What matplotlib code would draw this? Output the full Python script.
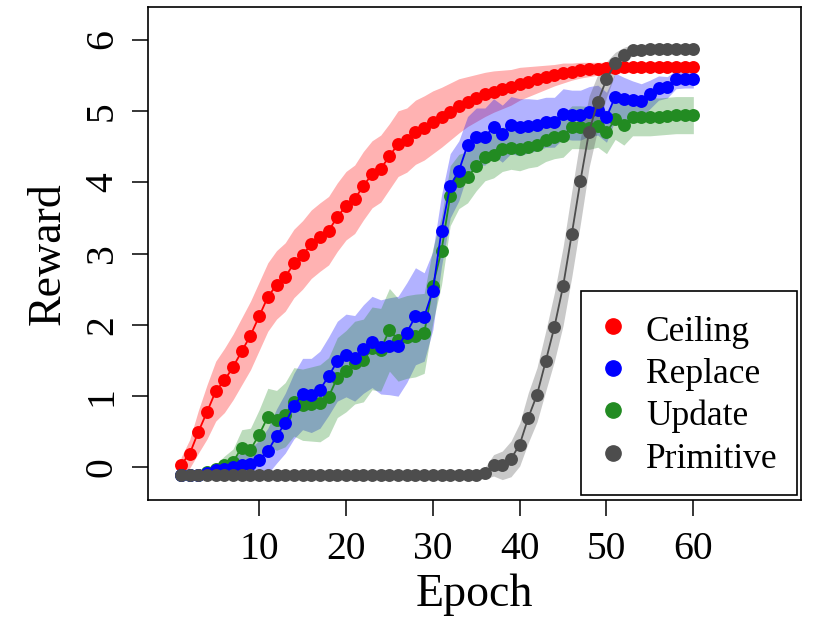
import matplotlib
matplotlib.use("Agg")
import matplotlib.pyplot as plt
from matplotlib.lines import Line2D
import numpy as np

plt.rcParams['font.family'] = ['Liberation Serif', 'DejaVu Serif']

# ---- data ----
epochs = list(range(1, 61))

ceiling = [0.04, 0.19, 0.50, 0.78, 1.07, 1.22, 1.41, 1.63, 1.85, 2.12,
           2.39, 2.56, 2.67, 2.86, 2.98, 3.13, 3.23, 3.32, 3.51, 3.67,
           3.76, 3.95, 4.11, 4.19, 4.36, 4.54, 4.59, 4.70, 4.76, 4.84,
           4.91, 4.99, 5.07, 5.13, 5.18, 5.23, 5.27, 5.30, 5.33, 5.38,
           5.41, 5.44, 5.47, 5.50, 5.53, 5.55, 5.57, 5.58, 5.59, 5.60,
           5.60, 5.61, 5.61, 5.61, 5.62, 5.62, 5.62, 5.62, 5.62, 5.62]
ceiling_sd = [0.10, 0.20, 0.30, 0.38, 0.42, 0.45, 0.46, 0.47, 0.48, 0.48,
              0.48, 0.48, 0.48, 0.48, 0.48, 0.48, 0.48, 0.48, 0.48, 0.48,
              0.48, 0.48, 0.47, 0.47, 0.46, 0.46, 0.45, 0.45, 0.45, 0.44,
              0.42, 0.40, 0.38, 0.35, 0.33, 0.31, 0.29, 0.27, 0.25, 0.23,
              0.21, 0.19, 0.17, 0.15, 0.14, 0.12, 0.11, 0.10, 0.09, 0.08,
              0.08, 0.07, 0.07, 0.07, 0.07, 0.07, 0.07, 0.07, 0.07, 0.07]

replace = [-0.10, -0.10, -0.10, -0.08, -0.03, -0.02, 0.00, 0.03, 0.05, 0.11,
           0.23, 0.44, 0.62, 0.86, 1.03, 1.01, 1.09, 1.28, 1.49, 1.57,
           1.53, 1.66, 1.76, 1.69, 1.70, 1.70, 1.89, 2.12, 2.11, 2.48,
           3.32, 3.95, 4.16, 4.52, 4.64, 4.64, 4.77, 4.68, 4.80, 4.77,
           4.79, 4.80, 4.84, 4.84, 4.96, 4.94, 4.94, 4.99, 5.01, 4.91,
           5.20, 5.17, 5.15, 5.14, 5.23, 5.32, 5.33, 5.44, 5.44, 5.44]
replace_sd = [0.03, 0.03, 0.03, 0.04, 0.06, 0.10, 0.14, 0.18, 0.22, 0.27,
              0.32, 0.38, 0.42, 0.46, 0.50, 0.52, 0.54, 0.55, 0.56, 0.58,
              0.60, 0.62, 0.64, 0.66, 0.68, 0.70, 0.70, 0.68, 0.62, 0.55,
              0.50, 0.45, 0.42, 0.40, 0.40, 0.40, 0.40, 0.40, 0.40, 0.40,
              0.38, 0.36, 0.35, 0.35, 0.35, 0.35, 0.35, 0.35, 0.35, 0.35,
              0.33, 0.30, 0.27, 0.24, 0.20, 0.17, 0.15, 0.13, 0.12, 0.12]

update = [-0.10, -0.10, -0.10, -0.07, -0.02, 0.04, 0.08, 0.28, 0.25, 0.46,
          0.71, 0.66, 0.74, 0.92, 0.88, 0.89, 0.90, 0.99, 1.26, 1.35,
          1.47, 1.50, 1.67, 1.65, 1.93, 1.79, 1.83, 1.85, 1.88, 2.55,
          3.04, 3.81, 4.01, 4.07, 4.22, 4.35, 4.38, 4.46, 4.48, 4.46,
          4.50, 4.52, 4.59, 4.63, 4.65, 4.77, 4.77, 4.76, 4.79, 4.70,
          4.88, 4.80, 4.92, 4.92, 4.92, 4.92, 4.93, 4.94, 4.94, 4.94]
update_sd = [0.03, 0.03, 0.03, 0.04, 0.06, 0.12, 0.18, 0.25, 0.30, 0.35,
             0.40, 0.42, 0.45, 0.48, 0.50, 0.52, 0.54, 0.55, 0.56, 0.57,
             0.58, 0.58, 0.58, 0.58, 0.58, 0.58, 0.58, 0.58, 0.56, 0.52,
             0.48, 0.42, 0.38, 0.36, 0.34, 0.33, 0.32, 0.31, 0.30, 0.30,
             0.30, 0.30, 0.30, 0.30, 0.30, 0.30, 0.30, 0.30, 0.30, 0.30,
             0.28, 0.28, 0.27, 0.27, 0.27, 0.26, 0.26, 0.26, 0.26, 0.26]

primitive = [-0.10] * 35 + [
    -0.08, 0.03, 0.03, 0.12, 0.32,
    0.70, 1.02, 1.49, 1.97, 2.54, 3.27, 4.02, 4.71, 5.13, 5.44,
    5.67, 5.79, 5.85, 5.86, 5.87, 5.87, 5.87, 5.87, 5.87, 5.87]
primitive_sd = [0.06] * 35 + [
    0.08, 0.15, 0.20, 0.25, 0.30,
    0.35, 0.38, 0.42, 0.48, 0.55, 0.60, 0.60, 0.50, 0.38, 0.25,
    0.15, 0.10, 0.08, 0.07, 0.07, 0.07, 0.07, 0.07, 0.07, 0.07]

series_names = ['Ceiling', 'Replace', 'Update', 'Primitive']
series_colors = ['#FF0000', '#0000FF', '#228B22', '#4D4D4D']
x_ticks = [10, 20, 30, 40, 50, 60]
y_ticks = [0, 1, 2, 3, 4, 5, 6]

means = [ceiling, replace, update, primitive]
sds = [ceiling_sd, replace_sd, update_sd, primitive_sd]

fig = plt.figure(figsize=(8.16, 6.2), dpi=100)
ax = fig.add_axes([148 / 816, 1 - 500 / 620, (801 - 148) / 816, (500 - 7) / 620])

x = np.array(epochs)
# shaded bands first
for m, s, c in zip(means, sds, series_colors):
    m = np.array(m)
    s = np.array(s)
    ax.fill_between(x, m - s, m + s, color=c, alpha=0.3, linewidth=0, zorder=1)

# lines + points (gray last so it sits on top)
draw_order = [0, 2, 1, 3]
for z, i in enumerate(draw_order):
    ax.plot(x, means[i], color=series_colors[i], linewidth=1.3, marker='o',
            markersize=9.3, markeredgewidth=0, zorder=3 + z)

ax.set_xlim(-2.8, 72.4)
ax.set_ylim(-0.456, 6.456)
ax.set_xticks(x_ticks)
ax.set_yticks(y_ticks)
ax.tick_params(axis='both', length=11.5, width=1.1, labelsize=28.5, color='black')
ax.tick_params(axis='x', pad=11)
ax.tick_params(axis='y', pad=8)
for lab in ax.get_yticklabels():
    lab.set_rotation(90)
    lab.set_va('center')

for sp in ax.spines.values():
    sp.set_linewidth(1.2)
    sp.set_color('black')

ax.set_xlabel('Epoch', fontsize=33, labelpad=4)
ax.set_ylabel('Reward', fontsize=33, labelpad=10)

handles = [Line2D([], [], color=c, marker='o', linestyle='none', markersize=11)
           for c in series_colors]
leg = ax.legend(handles, series_names, loc='lower right', fontsize=25.5,
                bbox_to_anchor=(797 / 816, 1 - 495 / 620), bbox_transform=fig.transFigure,
                frameon=True, fancybox=False, framealpha=1, edgecolor='black',
                handlelength=0.68, handleheight=1.165, handletextpad=0.6,
                labelspacing=0.13, borderpad=0.55, borderaxespad=0)
leg.get_frame().set_linewidth(1.2)
leg.set_zorder(20)

fig.savefig('out.png', dpi=100, facecolor='white')
